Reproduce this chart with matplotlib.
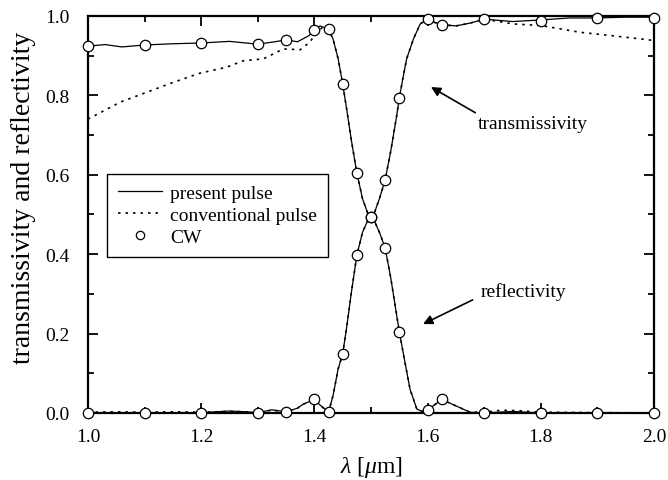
import matplotlib
matplotlib.use("Agg")
import matplotlib.pyplot as plt
from matplotlib.ticker import MultipleLocator

# wavelength axis (um) and curves
present_T_x = [1.00, 1.03, 1.06, 1.10, 1.15, 1.20, 1.25, 1.30, 1.33, 1.35, 1.37, 1.39, 1.40, 1.41,
               1.425, 1.433, 1.442, 1.45, 1.457, 1.465, 1.475, 1.485, 1.495, 1.50, 1.505, 1.515,
               1.525, 1.535, 1.545, 1.55, 1.556, 1.563, 1.575, 1.587, 1.60, 1.61, 1.625, 1.65,
               1.675, 1.70, 1.75, 1.80, 1.85, 1.90, 1.95, 2.00]
present_T_y = [0.924, 0.928, 0.922, 0.927, 0.930, 0.932, 0.936, 0.929, 0.935, 0.940, 0.935, 0.950,
               0.965, 0.975, 0.967, 0.942, 0.892, 0.829, 0.766, 0.690, 0.605, 0.540, 0.500, 0.493,
               0.500, 0.540, 0.587, 0.660, 0.745, 0.793, 0.840, 0.892, 0.942, 0.980, 0.992, 0.985,
               0.978, 0.975, 0.982, 0.992, 0.986, 0.990, 0.995, 0.995, 0.997, 0.997]

present_R_x = [1.00, 1.10, 1.20, 1.25, 1.28, 1.30, 1.325, 1.35, 1.37, 1.38, 1.40, 1.41, 1.425,
               1.433, 1.442, 1.45, 1.457, 1.465, 1.475, 1.485, 1.495, 1.50, 1.505, 1.515, 1.525,
               1.535, 1.545, 1.55, 1.56, 1.569, 1.581, 1.59, 1.60, 1.61, 1.625, 1.65, 1.675, 1.70,
               1.75, 1.80, 1.90, 2.00]
present_R_y = [0.000, 0.000, 0.001, 0.005, 0.003, 0.001, 0.008, 0.003, 0.012, 0.022, 0.034, 0.020,
               0.002, 0.044, 0.111, 0.149, 0.215, 0.300, 0.397, 0.455, 0.487, 0.493, 0.487, 0.455,
               0.416, 0.340, 0.250, 0.205, 0.128, 0.060, 0.010, 0.004, 0.008, 0.018, 0.034, 0.018,
               0.002, 0.000, 0.004, 0.000, 0.000, 0.000]

conv_T_x = [1.00, 1.057, 1.104, 1.151, 1.198, 1.245, 1.274, 1.31, 1.345, 1.375, 1.392, 1.404, 1.415,
            1.425, 1.433, 1.442, 1.45, 1.457, 1.465, 1.475, 1.485, 1.495, 1.50, 1.505, 1.515,
            1.525, 1.535, 1.545, 1.55, 1.556, 1.563, 1.575, 1.587, 1.60, 1.61, 1.625, 1.65,
            1.675, 1.70, 1.751, 1.80, 1.869, 1.928, 1.99, 2.00]
conv_T_y = [0.740, 0.783, 0.808, 0.833, 0.856, 0.871, 0.887, 0.892, 0.917, 0.915, 0.934, 0.959, 0.972,
            0.967, 0.942, 0.892, 0.829, 0.766, 0.690, 0.605, 0.540, 0.500, 0.493, 0.500, 0.540,
            0.587, 0.660, 0.745, 0.793, 0.840, 0.892, 0.942, 0.980, 0.992, 0.985, 0.978, 0.975,
            0.982, 0.992, 0.980, 0.976, 0.959, 0.950, 0.940, 0.938]

conv_R_x = [1.00, 1.05, 1.10, 1.15, 1.20, 1.25, 1.30, 1.325, 1.35, 1.37, 1.38, 1.40, 1.41, 1.425,
            1.433, 1.442, 1.45, 1.457, 1.465, 1.475, 1.485, 1.495, 1.50, 1.505, 1.515, 1.525,
            1.535, 1.545, 1.55, 1.56, 1.569, 1.581, 1.59, 1.60, 1.61, 1.625, 1.65, 1.675, 1.70,
            1.73, 1.76, 1.80, 1.90, 2.00]
conv_R_y = [0.002, 0.003, 0.002, 0.003, 0.002, 0.004, 0.002, 0.007, 0.003, 0.012, 0.022, 0.034,
            0.020, 0.002, 0.044, 0.111, 0.149, 0.215, 0.300, 0.397, 0.455, 0.487, 0.493, 0.487,
            0.455, 0.416, 0.340, 0.250, 0.205, 0.128, 0.060, 0.010, 0.004, 0.008, 0.018, 0.034,
            0.018, 0.002, 0.002, 0.007, 0.006, 0.002, 0.001, 0.000]

cw_x = [1.0, 1.1, 1.2, 1.3, 1.35, 1.4, 1.425, 1.45, 1.475, 1.5, 1.525, 1.55, 1.6, 1.625,
        1.7, 1.8, 1.9, 2.0]
cw_T = [0.924, 0.927, 0.932, 0.929, 0.940, 0.965, 0.967, 0.829, 0.605, 0.493, 0.587, 0.793,
        0.992, 0.978, 0.992, 0.988, 0.994, 0.994]
cw_R = [0.0, 0.0, 0.0, 0.0, 0.003, 0.034, 0.002, 0.149, 0.397, 0.493, 0.416, 0.205,
        0.008, 0.034, 0.0, 0.0, 0.0, 0.0]

plt.rcParams.update({
    'font.family': 'Liberation Serif',
    'mathtext.fontset': 'custom',
    'mathtext.rm': 'Liberation Serif',
    'mathtext.it': 'Liberation Serif:italic',
    'font.size': 14,
})

fig = plt.figure(figsize=(6.68, 4.81), dpi=100)
ax = fig.add_axes([0.1317, 0.1393, 0.979 - 0.1317, 0.9647 - 0.1393])

ax.plot(present_T_x, present_T_y, color='black', lw=0.9, label='present pulse')
ax.plot(present_R_x, present_R_y, color='black', lw=0.9)
ax.plot(conv_T_x, conv_T_y, color='black', lw=1.2, linestyle=(0, (1.5, 3)), label='conventional pulse')
ax.plot(conv_R_x, conv_R_y, color='black', lw=1.2, linestyle=(0, (1.5, 3)))
ax.plot(cw_x, cw_T, 'o', ms=7.5, mfc='white', mec='black', mew=0.9, clip_on=False, zorder=5, label='CW')
ax.plot(cw_x, cw_R, 'o', ms=7.5, mfc='white', mec='black', mew=0.9, clip_on=False, zorder=5)

ax.set_xlim(1.0, 2.0)
ax.set_ylim(0.0, 1.0)
ax.xaxis.set_major_locator(MultipleLocator(0.2))
ax.xaxis.set_minor_locator(MultipleLocator(0.1))
ax.yaxis.set_major_locator(MultipleLocator(0.2))
ax.yaxis.set_minor_locator(MultipleLocator(0.1))
ax.xaxis.set_major_formatter(lambda v, p: f"{v:.1f}")
ax.yaxis.set_major_formatter(lambda v, p: f"{v:.1f}")
ax.tick_params(which='both', direction='in', top=True, right=True, width=1.3)
ax.tick_params(which='major', length=7, labelsize=14)
ax.tick_params(which='minor', length=4)
ax.tick_params(axis='x', which='major', pad=11)
ax.tick_params(axis='y', which='major', pad=13)
for s in ax.spines.values():
    s.set_linewidth(1.6)

ax.set_xlabel(r'$\lambda$ [$\mu$m]', fontsize=17, labelpad=6)
ax.set_ylabel('transmissivity and reflectivity', fontsize=20)
ax.yaxis.set_label_coords(-0.092, 0.544)

ax.annotate('transmissivity', xy=(1.606, 0.821), xytext=(1.786, 0.728),
            ha='center', va='center', fontsize=14,
            arrowprops=dict(arrowstyle='-|>', color='black', lw=1.2, mutation_scale=14,
                            shrinkA=0, shrinkB=0, relpos=(0.02, 1.0)))
ax.annotate('reflectivity', xy=(1.592, 0.224), xytext=(1.769, 0.308),
            ha='center', va='center', fontsize=14,
            arrowprops=dict(arrowstyle='-|>', color='black', lw=1.2, mutation_scale=14,
                            shrinkA=4, shrinkB=0, relpos=(0.0, 0.2)))

leg = ax.legend(loc='upper left', bbox_to_anchor=(0.0336, 0.602), borderaxespad=0,
                fontsize=14, handlelength=2.3, handletextpad=0.4, labelspacing=0.22,
                borderpad=0.55, fancybox=False, framealpha=1, edgecolor='black')
leg.get_frame().set_linewidth(1.0)
leg.legend_handles[2].set_markersize(6)

fig.savefig('out.png', dpi=100)
